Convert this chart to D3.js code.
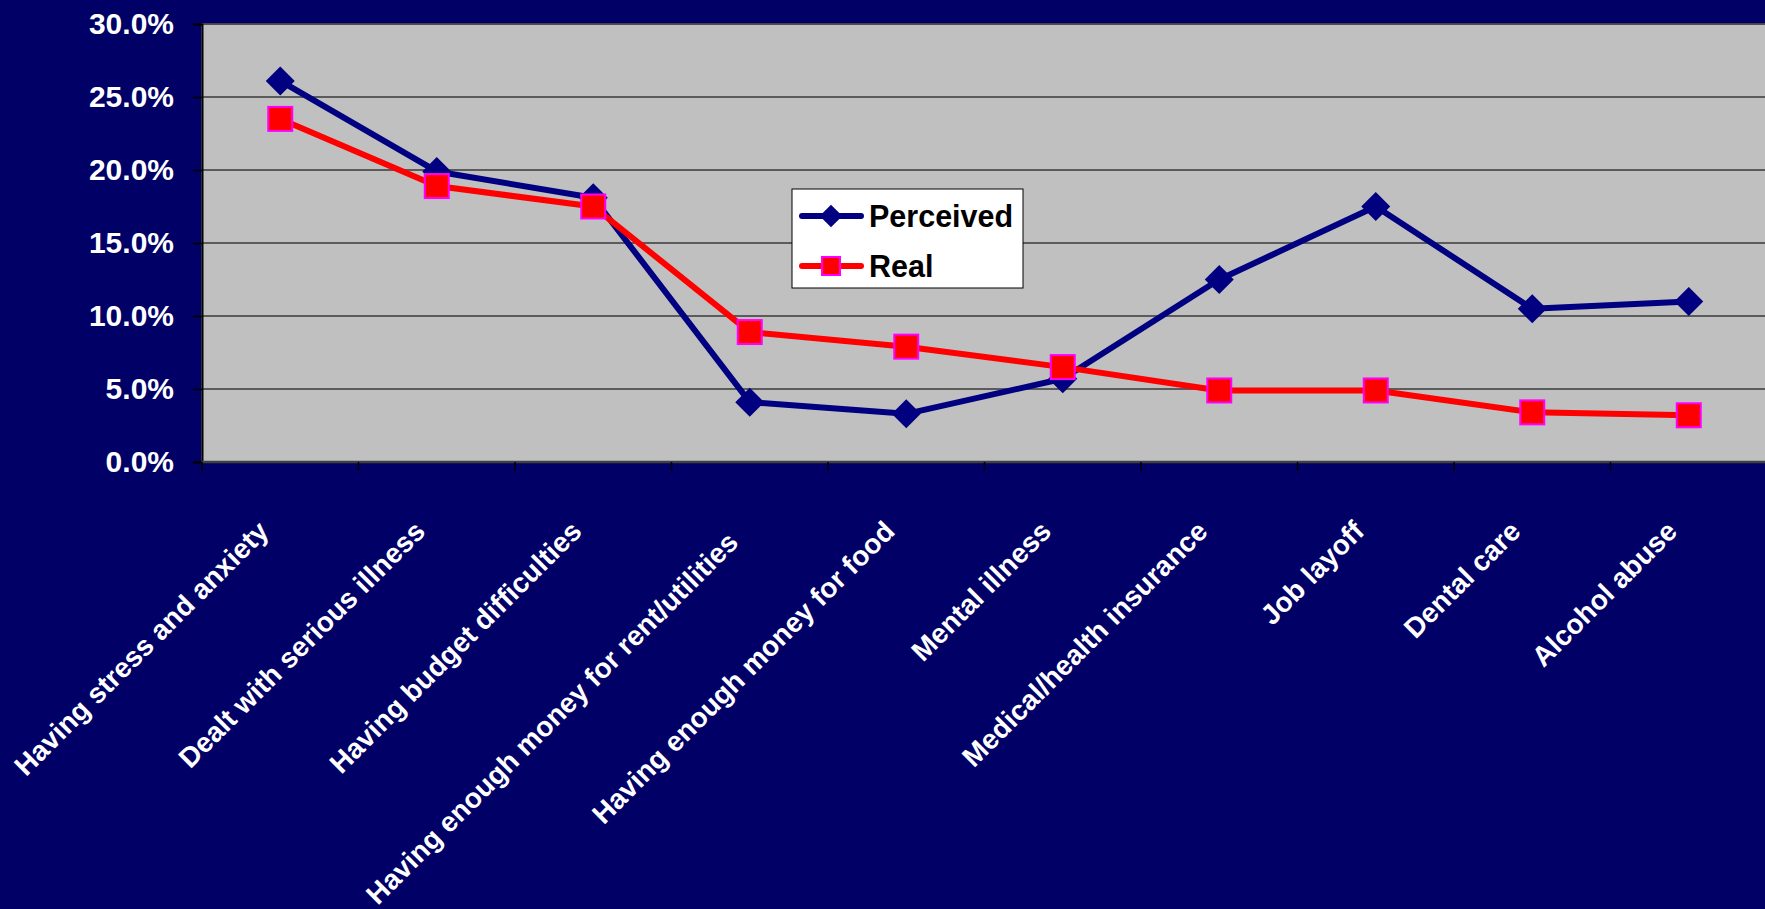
<!DOCTYPE html>
<html>
<head>
<meta charset="utf-8">
<script src="https://cdn.jsdelivr.net/npm/d3@7"></script>
<style>
html,body{margin:0;padding:0;background:#000066;overflow:hidden;}
svg{display:block;}
text{font-family:"Liberation Sans",Arial,sans-serif;font-weight:bold;}
</style>
</head>
<body>
<svg id="chart" width="1765" height="909"></svg>
<script>
const categories = [
  "Having stress and anxiety",
  "Dealt with serious illness",
  "Having budget difficulties",
  "Having enough money for rent/utilities",
  "Having enough money for food",
  "Mental illness",
  "Medical/health insurance",
  "Job layoff",
  "Dental care",
  "Alcohol abuse"
];
const perceived = [0.261, 0.199, 0.181, 0.041, 0.033, 0.057, 0.125, 0.175, 0.105, 0.110];
const real      = [0.235, 0.189, 0.175, 0.089, 0.079, 0.065, 0.049, 0.049, 0.034, 0.032];
const yTicks = [0, 0.05, 0.10, 0.15, 0.20, 0.25, 0.30];
const seriesNames = ["Perceived", "Real"];

const svg = d3.select("#chart");
const W = 1765, H = 909;
const L = 202, R = 1767, T = 24, B = 462;

const x = d3.scaleBand().domain(categories).range([L, R]).paddingInner(0).paddingOuter(0);
const cx = c => x(c) + x.bandwidth() / 2;
const y = d3.scaleLinear().domain([0, 0.30]).range([B, T]);

// plot background
svg.append("rect").attr("x", L).attr("y", T).attr("width", R - L).attr("height", B - T)
  .attr("fill", "#C0C0C0").attr("stroke", "#808080").attr("stroke-width", 1.5);

// gridlines
svg.append("g").selectAll("line").data(yTicks.filter(v => v > 0)).join("line")
  .attr("x1", L).attr("x2", R).attr("y1", d => y(d)).attr("y2", d => y(d))
  .attr("stroke", "#3a3a3a").attr("stroke-width", 1.5);

// y axis
const yAxis = d3.axisLeft(y).tickValues(yTicks).tickFormat(d3.format(".1%")).tickSize(9).tickPadding(19);
const gy = svg.append("g").attr("transform", `translate(${L},0)`).call(yAxis);
gy.select(".domain").attr("stroke", "#000").attr("stroke-width", 2);
gy.selectAll(".tick line").attr("stroke", "#000").attr("stroke-width", 1.5);
gy.selectAll(".tick text").attr("fill", "#fff").attr("font-size", 30).attr("font-family", "Liberation Sans, Arial, sans-serif").attr("font-weight", "bold");

// x axis line and band-edge ticks
svg.append("line").attr("x1", L).attr("x2", R).attr("y1", B).attr("y2", B)
  .attr("stroke", "#404040").attr("stroke-width", 2.5);
const edges = categories.map(c => x(c)).concat([x(categories[categories.length - 1]) + x.bandwidth()]);
svg.append("g").selectAll("line").data(edges).join("line")
  .attr("x1", d => d).attr("x2", d => d).attr("y1", B).attr("y2", B + 9)
  .attr("stroke", "#000").attr("stroke-width", 1.5);

// x labels (rotated; a label that would reach the bottom edge is set flush to it)
const labelBase = 533;
const xl = svg.append("g").selectAll("text").data(categories).join("text")
  .attr("text-anchor", "end")
  .attr("fill", "#fff").attr("font-size", 28)
  .text(d => d);
xl.each(function(d) {
  const len = this.getComputedTextLength();
  const drop = len * Math.SQRT1_2;
  let yb = labelBase;
  if (yb + drop > H - 15) yb = H - 3 - drop;
  d3.select(this).attr("transform", `translate(${cx(d) - 10},${yb}) rotate(-45)`);
});

// lines
const line = d3.line().x((d, i) => cx(categories[i])).y(d => y(d));
svg.append("path").datum(perceived).attr("d", line).attr("fill", "none")
  .attr("stroke", "#000080").attr("stroke-width", 6).attr("stroke-linejoin", "round");
svg.append("path").datum(real).attr("d", line).attr("fill", "none")
  .attr("stroke", "#FF0000").attr("stroke-width", 6).attr("stroke-linejoin", "round");

// markers
const dS = 20.5;
svg.append("g").selectAll("rect").data(perceived).join("rect")
  .attr("x", -dS / 2).attr("y", -dS / 2).attr("width", dS).attr("height", dS)
  .attr("transform", (d, i) => `translate(${cx(categories[i])},${y(d)}) rotate(45)`)
  .attr("fill", "#000080");
const sS = 24;
svg.append("g").selectAll("rect").data(real).join("rect")
  .attr("x", (d, i) => cx(categories[i]) - sS / 2).attr("y", d => y(d) - sS / 2)
  .attr("width", sS).attr("height", sS)
  .attr("fill", "#FF0000").attr("stroke", "#FF00FF").attr("stroke-width", 2);

// legend
const lg = svg.append("g");
lg.append("rect").attr("x", 792).attr("y", 189).attr("width", 231).attr("height", 99)
  .attr("fill", "#fff").attr("stroke", "#000").attr("stroke-width", 1);
const rows = [
  {name: seriesNames[0], color: "#000080", y: 216, type: "diamond"},
  {name: seriesNames[1], color: "#FF0000", y: 266, type: "square"}
];
rows.forEach(r => {
  lg.append("line").attr("x1", 802).attr("x2", 861).attr("y1", r.y).attr("y2", r.y)
    .attr("stroke", r.color).attr("stroke-width", 6).attr("stroke-linecap", "round");
  if (r.type === "diamond") {
    lg.append("rect").attr("x", -8).attr("y", -8).attr("width", 16).attr("height", 16)
      .attr("transform", `translate(831,${r.y}) rotate(45)`).attr("fill", r.color);
  } else {
    lg.append("rect").attr("x", 822).attr("y", r.y - 9).attr("width", 18).attr("height", 18)
      .attr("fill", r.color).attr("stroke", "#FF00FF").attr("stroke-width", 2);
  }
  lg.append("text").attr("x", 869).attr("y", r.y + 11).attr("font-size", 30.5)
    .attr("fill", "#000").text(r.name);
});
</script>
</body>
</html>
